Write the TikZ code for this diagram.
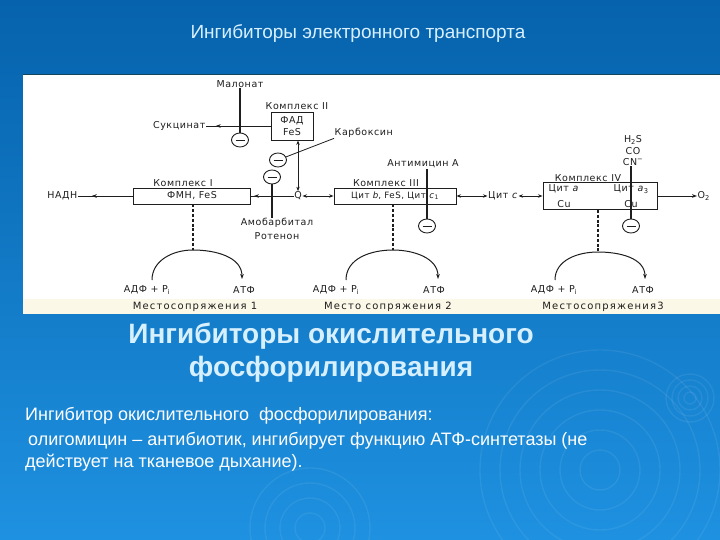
\documentclass[tikz,border=0pt]{standalone}
\usepackage{fontspec}
\setmainfont{Liberation Sans}
\newfontfamily\dfont[LetterSpace=6]{DejaVu Sans}
\newfontfamily\dwfont[LetterSpace=12]{DejaVu Sans}
\usetikzlibrary{arrows.meta,decorations.markings,shapes.geometric}
\definecolor{bgtop}{RGB}{6,98,172}
\definecolor{bgbot}{RGB}{30,145,224}
\definecolor{ink}{RGB}{30,30,30}
\definecolor{titlec}{RGB}{215,240,255}
\definecolor{cream}{RGB}{252,248,232}
\definecolor{edge}{RGB}{20,70,90}
\tikzset{
  lbl/.style={font=\dfont\fontsize{9.5}{11}\selectfont, text=ink, inner sep=0.5pt},
  mlbl/.style={font=\dwfont\fontsize{10}{11}\selectfont, text=ink, inner sep=0.5pt},
  cbox/.style={draw=ink, line width=0.9pt, fill=white, inner sep=0pt, font=\dfont\fontsize{9.5}{12.5}\selectfont, text=ink, align=center},
  inh/.style={ellipse, draw=ink, line width=0.9pt, fill=white, minimum width=17pt, minimum height=14pt, inner sep=0pt,
    path picture={\draw[ink, line width=0.9pt] ([xshift=-4.5pt]path picture bounding box.center) -- ([xshift=4.5pt]path picture bounding box.center);}},
  ln/.style={draw=ink, line width=0.8pt},
  thk/.style={draw=ink, line width=1.5pt},
  dsh/.style={draw=ink, line width=1.1pt, dash pattern=on 3pt off 1.8pt},
  tip/.style={-{Stealth[length=5pt,width=3.6pt]}},
  dtip/.style={{Stealth[length=4.5pt,width=3.4pt]}-{Stealth[length=4.5pt,width=3.4pt]}},
  marrow/.style={postaction={decorate}, decoration={markings, mark=at position #1 with {\arrow{Stealth[length=5pt,width=3.6pt]}}}},
  ttl/.style={font=\fontsize{19}{22}\selectfont, text=titlec, inner sep=0pt},
  hd/.style={font=\bfseries\fontsize{28}{32}\selectfont, text=titlec, inner sep=0pt},
  body/.style={font=\fontsize{18}{21}\selectfont, text=white, inner sep=0pt},
  ripple/.style={draw=white, opacity=0.07, line width=1.4pt},
}
\begin{document}
\begin{tikzpicture}[x=1pt,y=-1pt]
\useasboundingbox (0,0) rectangle (720,540);
\shade[top color=bgtop, bottom color=bgbot] (0,0) rectangle (720,540);
% ripples
\foreach \r in {6,12,18,24} \draw[ripple] (690,398) circle[radius=\r pt];
\foreach \r in {20,40,60,80,100,120} \draw[ripple] (600,470) circle[radius=\r pt];
\foreach \r in {15,30,45,60} \draw[ripple] (310,528) circle[radius=\r pt];
% panel
\fill[white] (23,75) rectangle (720,314);
\fill[cream] (23,299) rectangle (720,314);
\draw[edge, line width=1pt] (23,75) -- (720,75);

% titles
\node[ttl] (title) at (358,34) {Ингибиторы электронного транспорта};
\node[hd] (h1) at (331,336) {Ингибиторы окислительного};
\node[hd] (h2) at (331,369) {фосфорилирования};
\node[body, anchor=base west] (t1) at (25,420) {Ингибитор окислительного\ \ фосфорилирования:};
\node[body, anchor=base west] (t2) at (28,445) {олигомицин – антибиотик, ингибирует функцию АТФ-синтетазы (не};
\node[body, anchor=base west] (t3) at (25,467) {действует на тканевое дыхание).};

% complexes
\node[cbox, minimum width=117pt, minimum height=16pt] (b1) at (192,196) {ФМН, FeS};
\node[cbox, minimum width=42pt, minimum height=28pt] (b2) at (292,126) {ФАД\\FeS};
\node[cbox, minimum width=122pt, minimum height=16pt, font=\dfont\fontsize{8.7}{10}\selectfont] (b3) at (395,196) {Цит \textit{b}, FeS, Цит \textit{c}\textsubscript{1}};
\node[cbox, minimum width=114pt, minimum height=27pt] (b4) at (600,196) {};
\node[lbl, anchor=west] (ca1) at (548,189) {Цит \textit{a}};
\node[lbl, anchor=west] (ca3) at (613,189) {Цит \textit{a}\textsubscript{3}};
\node[lbl] (cu1) at (564,204) {Cu};
\node[lbl] (cu2) at (631,204) {Cu};

\node[lbl, anchor=south] (k1) at (183,187) {Комплекс I};
\node[lbl, anchor=south] (k2) at (297,110) {Комплекс II};
\node[lbl, anchor=south] (k3) at (386,187) {Комплекс III};
\node[lbl, anchor=south] (k4) at (588,182) {Комплекс IV};

% chain labels
\node[lbl, anchor=east] (nadh) at (78,196) {НАДН};
\node[lbl] (q) at (298,196) {Q};
\node[lbl] (citc) at (503,196) {Цит \textit{c}};
\node[lbl, anchor=west] (o2) at (697,196) {O\textsubscript{2}};
\node[lbl, anchor=east] (succ) at (206,126) {Сукцинат};

% inhibitors
\node[lbl] (mal) at (240,84) {Малонат};
\node[lbl, anchor=west] (carb) at (334,133) {Карбоксин};
\node[lbl] (amob) at (277,223) {Амобарбитал};
\node[lbl] (rot) at (277,236) {Ротенон};
\node[lbl] (anti) at (423,164) {Антимицин А};
\node[lbl] (h2s) at (633,140) {H\textsubscript{2}S};
\node[lbl] (co) at (633,151) {CO};
\node[lbl] (cn) at (633,162) {CN\textsuperscript{−}};

\node[inh] (cm) at (240,140) {};
\node[inh] (cc) at (278,160) {};
\node[inh] (ca) at (272,177) {};
\node[inh] (can) at (427,226) {};
\node[inh] (ccn) at (631,226) {};

% chain connectors
\draw[ln, marrow=0.75] (b1.west) -- (nadh.east);
\draw[ln, marrow=0.93] (q.west) -- (b1.east);
\draw[ln, dtip] (q.east) -- (b3.west);
\draw[ln, dtip] (b3.east) -- (citc.west);
\draw[ln, dtip] (citc.east) -- (b4.west);
\draw[ln, tip] (b4.east) -- (o2.west);
\draw[ln, marrow=0.85] (b2.west) -- (succ.east);
\draw[ln, dtip] (b2.south -| q.north) -- (q.north);

% inhibitor lines
\draw[thk] (mal.south) -- (cm.north);
\draw[ln] (cc) -- (carb.south west);
\draw[thk] (ca.south) -- (ca |- amob.north);
\draw[thk] (can |- anti.south) -- (can.north);
\draw[thk] (ccn |- cn.south) -- (ccn.north);

% coupling sites
\coordinate (a1) at (193,250);
\coordinate (s1) at (152,280);
\coordinate (e1) at (242,279);
\coordinate (a2) at (393,250);
\coordinate (s2) at (346,280);
\coordinate (e2) at (438,279);
\coordinate (a3) at (598,252);
\coordinate (s3) at (555,280);
\coordinate (e3) at (645,279);
\draw[dsh] (b1.south -| a1) -- (a1);
\draw[dsh] (b3.south -| a2) -- (a2);
\draw[dsh] (b4.south -| a3) -- (a3);
\draw[ln, line width=1pt, tip] (s1) to[out=90,in=180] (a1) to[out=0,in=90] (e1);
\draw[ln, line width=1pt, tip] (s2) to[out=90,in=180] (a2) to[out=0,in=90] (e2);
\draw[ln, line width=1pt, tip] (s3) to[out=90,in=180] (a3) to[out=0,in=90] (e3);

\node[lbl] (adp1) at (147,290) {АДФ + P\textsubscript{i}};
\node[lbl] (atp1) at (244,290) {АТФ};
\node[lbl] (adp2) at (336,290) {АДФ + P\textsubscript{i}};
\node[lbl] (atp2) at (434,290) {АТФ};
\node[lbl] (adp3) at (554,290) {АДФ + P\textsubscript{i}};
\node[lbl] (atp3) at (643,290) {АТФ};
\node[mlbl] (m1) at (195,307) {Местосопряжения 1};
\node[mlbl] (m2) at (388,307) {Место сопряжения 2};
\node[mlbl] (m3) at (603,307) {Местосопряжения3};
\end{tikzpicture}
\end{document}
